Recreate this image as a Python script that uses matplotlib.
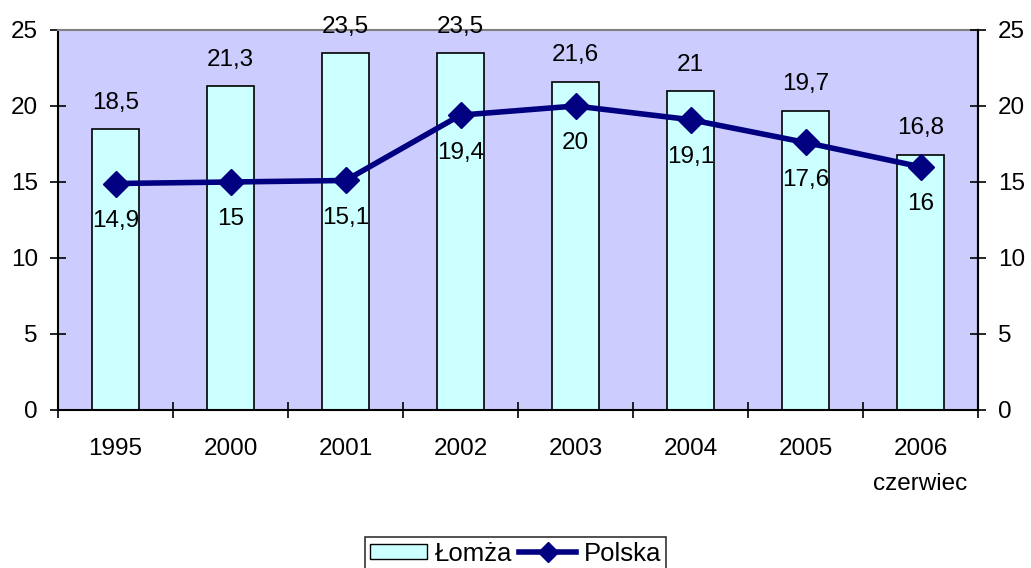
import numpy as np
import matplotlib.pyplot as plt
from matplotlib.patches import Patch
from matplotlib.lines import Line2D

years = ["1995", "2000", "2001", "2002", "2003", "2004", "2005", "2006\nczerwiec"]
lomza = [18.5, 21.3, 23.5, 23.5, 21.6, 21.0, 19.7, 16.8]
polska = [14.9, 15.0, 15.1, 19.4, 20.0, 19.1, 17.6, 16.0]


def fmt(v):
    s = ("%.1f" % v).replace(".", ",")
    return s[:-2] if s.endswith(",0") else s


def main():
    plt.rcParams["font.family"] = ["Liberation Sans", "DejaVu Sans"]
    fs = 17.5

    fig = plt.figure(figsize=(10.31, 5.68), dpi=100)
    ax = fig.add_axes([58 / 1031, 1 - 410 / 568, (978 - 58) / 1031, (410 - 30) / 568])
    ax.set_facecolor("#CCCCFF")

    x = np.arange(len(years))
    ax.bar(x, lomza, width=0.41, color="#CCFFFF", edgecolor="black", linewidth=1.2, zorder=2)
    ax.plot(x, polska, color="#000080", linewidth=4, marker="D", markersize=13.5, zorder=3)

    for xi, v in zip(x, lomza):
        ax.annotate(fmt(v), (xi, v), xytext=(0, 11), textcoords="offset points",
                    ha="center", va="bottom", fontsize=fs)
    for xi, v in zip(x, polska):
        ax.annotate(fmt(v), (xi, v), xytext=(0, -19), textcoords="offset points",
                    ha="center", va="top", fontsize=fs)

    ax.set_xlim(-0.5, len(years) - 0.5)
    ax.set_ylim(0, 25)
    ax.set_yticks([0, 5, 10, 15, 20, 25])
    ax.set_xticks(x)
    ax.set_xticklabels(years, fontsize=fs, linespacing=1.75)
    ax.set_xticks(np.arange(-0.5, len(years)), minor=True)
    ax.tick_params(axis="x", which="major", length=0, pad=20)
    ax.tick_params(axis="x", which="minor", direction="inout", length=11, width=1.2)
    ax.tick_params(axis="y", direction="inout", length=11, width=1.2, labelsize=fs, pad=9)

    for s in ["left", "bottom", "right"]:
        ax.spines[s].set_linewidth(1.5)
    ax.spines["top"].set_color("#808080")
    ax.spines["top"].set_linewidth(1.5)

    ax2 = ax.twinx()
    ax2.set_ylim(0, 25)
    ax2.set_yticks([0, 5, 10, 15, 20, 25])
    ax2.tick_params(axis="y", direction="inout", length=11, width=1.2, labelsize=fs, pad=9)
    ax2.spines["right"].set_linewidth(1.5)
    ax2.spines["top"].set_visible(False)
    ax2.spines["left"].set_visible(False)
    ax2.spines["bottom"].set_visible(False)

    handles = [Patch(facecolor="#CCFFFF", edgecolor="black", label="Łomża"),
               Line2D([], [], color="#000080", linewidth=4, marker="D", markersize=10, label="Polska")]
    leg = fig.legend(handles=handles, loc="upper center", bbox_to_anchor=(0.5, 1 - 537 / 568),
                     ncol=2, fontsize=18.5, frameon=True, fancybox=False, handlelength=2.2,
                     handleheight=0.55, handletextpad=0.3, columnspacing=0.3, borderpad=0.18,
                     borderaxespad=0)
    leg.get_frame().set_edgecolor("black")
    leg.get_frame().set_linewidth(1.2)

    fig.savefig("out.png", dpi=100)


if __name__ == "__main__":
    main()
